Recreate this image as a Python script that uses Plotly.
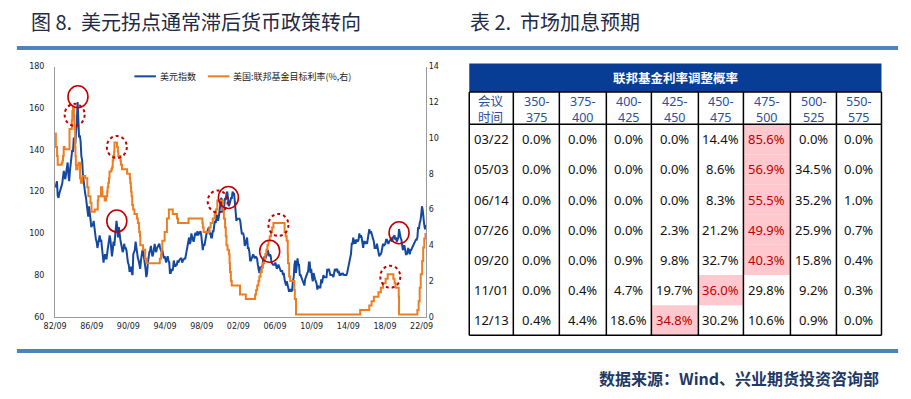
import plotly.graph_objects as go
import pandas as pd

# ---------------- data ----------------
# US dollar index, monthly (first value = 1982-09)
dxy_first_month = "1982-09"
dxy_monthly = [
    122, 124, 125, 118,                                              # 1982 Sep-Dec
    117, 119, 120, 121, 122, 124, 127, 130, 127, 126, 129, 132,      # 1983
    134, 128, 125, 130, 134, 135, 140, 139, 146, 144, 143, 149,      # 1984
    153, 163, 152, 146, 147, 144, 137, 135, 128, 124, 121, 119,      # 1985
    117, 112, 111, 108, 113, 110, 104, 103, 104, 104, 106, 102,      # 1986
    98, 97, 96, 93, 95, 97, 99, 96, 97, 93, 88, 86,                  # 1987
    89, 90, 88, 88, 91, 95, 98, 99, 97, 93, 89, 92,                  # 1988
    96, 94, 99, 100, 106, 103, 98, 103, 99, 97, 95, 92,              # 1989
    91, 92, 95, 93, 93, 92, 88, 86, 85, 82, 82, 84,                  # 1990
    81, 80, 90, 92, 92, 96, 93, 92, 88, 87, 84, 83,                  # 1991
    87, 90, 92, 91, 89, 85, 83, 79, 81, 86, 89, 91,                  # 1992
    92, 94, 91, 89, 90, 94, 95, 92, 91, 93, 94, 94,                  # 1993
    95, 93, 92, 91, 92, 89, 88, 89, 87, 86, 88, 89,                  # 1994
    87, 86, 81, 81, 83, 82, 83, 87, 85, 84, 85, 85,                  # 1995
    87, 86, 87, 88, 88, 88, 86, 87, 88, 88, 88, 90,                  # 1996
    94, 96, 96, 98, 95, 96, 100, 99, 97, 96, 98, 100,                # 1997
    100, 99, 101, 99, 100, 101, 101, 99, 94, 92, 95, 94,             # 1998
    96, 99, 100, 101, 102, 103, 100, 100, 98, 98, 101, 101,          # 1999
    104, 106, 105, 109, 108, 106, 108, 112, 114, 117, 116, 110,      # 2000
    111, 113, 117, 116, 119, 120, 117, 113, 114, 116, 117, 117,      # 2001
    120, 119, 119, 115, 112, 106, 107, 107, 107, 107, 106, 102,      # 2002
    100, 100, 100, 98, 94, 95, 96, 98, 93, 93, 91, 87,               # 2003
    87, 88, 88, 90, 89, 88, 89, 88, 88, 85, 82, 81,                  # 2004
    84, 83, 84, 84, 87, 89, 89, 88, 89, 90, 92, 91,                  # 2005
    89, 90, 89, 86, 85, 85, 85, 85, 86, 85, 83, 84,                  # 2006
    85, 84, 83, 82, 82, 82, 80, 81, 78, 77, 75, 77,                  # 2007
    75, 74, 72, 73, 73, 72, 73, 77, 79, 85, 87, 81,                  # 2008
    86, 88, 85, 85, 80, 80, 79, 78, 77, 76, 75, 78,                  # 2009
    79, 80, 81, 82, 86, 86, 81, 83, 79, 77, 81, 79,                  # 2010
    78, 77, 76, 73, 75, 74, 74, 74, 78, 76, 78, 80,                  # 2011
    79, 79, 79, 79, 83, 82, 83, 81, 80, 80, 80, 80,                  # 2012
    79, 82, 83, 82, 83, 83, 81, 82, 80, 80, 81, 80,                  # 2013
    81, 80, 80, 80, 80, 80, 81, 83, 86, 87, 88, 90,                  # 2014
    95, 95, 98, 95, 97, 95, 97, 96, 96, 97, 100, 98,                 # 2015
    99, 98, 95, 93, 96, 96, 95, 96, 95, 98, 101, 102,                # 2016
    100, 101, 100, 99, 97, 96, 93, 93, 93, 95, 93, 92,               # 2017
    89, 90, 90, 91, 94, 95, 94, 95, 95, 97, 97, 96,                  # 2018
    95, 96, 97, 97, 98, 96, 98, 99, 99, 97, 98, 96,                  # 2019
    97, 98, 102, 99, 98, 97, 93, 92, 94, 94, 92, 90,                 # 2020
    90, 91, 93, 91, 90, 92, 92, 93, 94, 94, 96, 96,                  # 2021
    97, 97, 98, 103, 102, 105, 106, 109, 113, 111, 106, 104,         # 2022
    102, 104,                                                        # 2023 Jan-Feb
]

# Fed funds target rate (%), change dates and new levels
fed_dates = [
    "1982-09-01", "1982-10-01", "1982-11-19", "1982-12-14", "1983-05-25", "1983-06-24",
    "1983-07-14", "1983-08-10", "1983-09-15", "1984-03-29", "1984-06-28", "1984-07-19",
    "1984-08-09", "1984-09-20", "1984-10-11", "1984-11-08", "1984-11-21", "1984-12-06",
    "1984-12-20", "1985-02-14", "1985-03-28", "1985-05-20", "1985-06-24", "1985-08-21",
    "1985-12-18", "1986-03-07", "1986-04-21", "1986-07-11", "1986-08-21", "1987-01-02",
    "1987-04-30", "1987-05-22", "1987-09-04", "1987-10-22", "1987-11-04", "1988-01-28",
    "1988-03-30", "1988-05-09", "1988-05-25", "1988-06-22", "1988-07-19", "1988-08-09",
    "1988-10-20", "1988-11-22", "1988-12-15", "1989-01-05", "1989-02-09", "1989-02-24",
    "1989-06-06", "1989-07-07", "1989-07-27", "1989-10-18", "1989-11-06", "1989-12-20",
    "1990-07-13", "1990-10-29", "1990-11-14", "1990-12-07", "1990-12-19", "1991-01-09",
    "1991-02-01", "1991-03-08", "1991-04-30", "1991-08-06", "1991-09-13", "1991-10-31",
    "1991-11-06", "1991-12-06", "1991-12-20", "1992-04-09", "1992-07-02", "1992-09-04",
    "1994-02-04", "1994-03-22", "1994-04-18", "1994-05-17", "1994-08-16", "1994-11-15",
    "1995-02-01", "1995-07-06", "1995-12-19", "1996-01-31", "1997-03-25", "1998-09-29",
    "1998-10-15", "1998-11-17", "1999-06-30", "1999-08-24", "1999-11-16", "2000-02-02",
    "2000-03-21", "2000-05-16", "2001-01-03", "2001-01-31", "2001-03-20", "2001-04-18",
    "2001-05-15", "2001-06-27", "2001-08-21", "2001-09-17", "2001-10-02", "2001-11-06",
    "2001-12-11", "2002-11-06", "2003-06-25", "2004-06-30", "2004-08-10", "2004-09-21",
    "2004-11-10", "2004-12-14", "2005-02-02", "2005-03-22", "2005-05-03", "2005-06-30",
    "2005-08-09", "2005-09-20", "2005-11-01", "2005-12-13", "2006-01-31", "2006-03-28",
    "2006-05-10", "2006-06-29", "2007-09-18", "2007-10-31", "2007-12-11", "2008-01-22",
    "2008-01-30", "2008-03-18", "2008-04-30", "2008-10-08", "2008-10-29", "2008-12-16",
    "2015-12-16", "2016-12-14", "2017-03-15", "2017-06-14", "2017-12-13", "2018-03-21",
    "2018-06-13", "2018-09-26", "2018-12-19", "2019-07-31", "2019-09-18", "2019-10-30",
    "2020-03-03", "2020-03-15", "2022-03-16", "2022-05-04", "2022-06-15", "2022-07-27",
    "2022-09-21", "2022-11-02", "2022-12-14", "2023-02-01", "2023-02-28",
]
fed_rates = [
    10.25, 9.5, 9.0, 8.5, 8.625, 8.75,
    9.0, 9.5, 9.375, 10.5, 11.0, 11.5,
    11.75, 11.25, 10.5, 9.5, 9.0, 8.5,
    8.25, 8.5, 8.625, 7.75, 7.5, 7.875,
    7.75, 7.25, 6.75, 6.375, 5.875, 6.0,
    6.5, 6.75, 7.25, 7.0, 6.75, 6.5,
    6.75, 7.0, 7.25, 7.5, 7.75, 8.125,
    8.25, 8.375, 8.75, 9.0, 9.25, 9.75,
    9.5, 9.25, 9.0, 8.75, 8.5, 8.25,
    8.0, 7.75, 7.5, 7.25, 7.0, 6.75,
    6.25, 6.0, 5.75, 5.5, 5.25, 5.0,
    4.75, 4.5, 4.0, 3.75, 3.25, 3.0,
    3.25, 3.5, 3.75, 4.25, 4.75, 5.5,
    6.0, 5.75, 5.5, 5.25, 5.5, 5.25,
    5.0, 4.75, 5.0, 5.25, 5.5, 5.75,
    6.0, 6.5, 6.0, 5.5, 5.0, 4.5,
    4.0, 3.75, 3.5, 3.0, 2.5, 2.0,
    1.75, 1.25, 1.0, 1.25, 1.5, 1.75,
    2.0, 2.25, 2.5, 2.75, 3.0, 3.25,
    3.5, 3.75, 4.0, 4.25, 4.5, 4.75,
    5.0, 5.25, 4.75, 4.5, 4.25, 3.5,
    3.0, 2.25, 2.0, 1.5, 1.0, 0.125,
    0.375, 0.625, 0.875, 1.125, 1.375, 1.625,
    1.875, 2.125, 2.375, 2.125, 1.875, 1.625,
    1.125, 0.125, 0.375, 0.875, 1.625, 2.375,
    3.125, 3.875, 4.375, 4.625, 4.625,
]

x_tick_dates = ["1982-09-01", "1986-09-01", "1990-09-01", "1994-09-01", "1998-09-01", "2002-09-01",
                "2006-09-01", "2010-09-01", "2014-09-01", "2018-09-01", "2022-09-01"]
x_tick_labels = ["82/09", "86/09", "90/09", "94/09", "98/09", "02/09",
                 "06/09", "10/09", "14/09", "18/09", "22/09"]

series_names = ["美元指数", "美国:联邦基金目标利率(%,右)"]

# highlighted turning points: (date, value on left axis)
solid_circles = [("1985-03-01", 165.5), ("1989-05-28", 105.9), ("2001-08-01", 117.2),
                 ("2006-02-01", 91.4), ("2020-03-15", 100.3)]
# policy turning points: (date, value on right axis)
dotted_circles = [("1984-10-20", 11.3), ("1989-05-28", 9.5), ("2000-06-01", 6.45),
                  ("2007-01-15", 5.14), ("2019-04-01", 2.24)]

# table
table_title = "联邦基金利率调整概率"
meeting_header = "会议<br>时间"
rate_ranges = ["350-375", "375-400", "400-425", "425-450", "450-475", "475-500", "500-525", "550-575"]
meetings = ["03/22", "05/03", "06/14", "07/26", "09/20", "11/01", "12/13"]
probabilities = [
    [0.0, 0.0, 0.0, 0.0, 14.4, 85.6, 0.0, 0.0],
    [0.0, 0.0, 0.0, 0.0, 8.6, 56.9, 34.5, 0.0],
    [0.0, 0.0, 0.0, 0.0, 8.3, 55.5, 35.2, 1.0],
    [0.0, 0.0, 0.0, 2.3, 21.2, 49.9, 25.9, 0.7],
    [0.0, 0.0, 0.9, 9.8, 32.7, 40.3, 15.8, 0.4],
    [0.0, 0.4, 4.7, 19.7, 36.0, 29.8, 9.2, 0.3],
    [0.4, 4.4, 18.6, 34.8, 30.2, 10.6, 0.9, 0.0],
]

# ---------------- layout helpers ----------------
W, H = 911, 399
def px(x):
    return x / W
def py(y):
    return 1 - y / H

CJK = "Noto Sans CJK SC"
BLUE = "#1548a0"
ORANGE = "#ee7d22"
RED = "#c00000"

fig = go.Figure()

dxy_dates = pd.date_range(dxy_first_month + "-01", periods=len(dxy_monthly), freq="MS") + pd.Timedelta(days=14)

fig.add_trace(go.Scatter(
    x=pd.to_datetime(fed_dates), y=fed_rates, yaxis="y2", mode="lines", line_shape="hv",
    line=dict(color=ORANGE, width=2), name=series_names[1]))
fig.add_trace(go.Scatter(
    x=dxy_dates, y=dxy_monthly, mode="lines",
    line=dict(color=BLUE, width=2), name=series_names[0]))

axis_font = dict(family="DejaVu Sans", size=8, color="#222")
fig.update_layout(
    width=W, height=H, autosize=False,
    margin=dict(l=0, r=0, t=0, b=0),
    paper_bgcolor="white", plot_bgcolor="white",
    showlegend=False,
    xaxis=dict(domain=[px(44), px(423)], type="date", range=["1982-09-01", "2023-03-01"],
               tickvals=pd.to_datetime(x_tick_dates), ticktext=x_tick_labels,
               showline=True, linecolor="#9a9a9a", linewidth=1, showgrid=False, zeroline=False,
               ticks="", tickfont=axis_font, anchor="y", ticklabelstandoff=2),
    yaxis=dict(domain=[py(320), py(64)], range=[60, 180], dtick=20, showline=True,
               linecolor="#9a9a9a", linewidth=1, showgrid=False, zeroline=False, ticks="",
               tickfont=axis_font, ticklabelstandoff=8),
    yaxis2=dict(overlaying="y", side="right", range=[0, 14], dtick=2, showline=True,
                linecolor="#9a9a9a", linewidth=1, showgrid=False, zeroline=False, ticks="",
                tickfont=axis_font, anchor="x", ticklabelstandoff=0),
)

shapes = []
annotations = []

# legend (drawn manually for exact spacing)
legend_items = [(series_names[0], BLUE, 125), (series_names[1], ORANGE, 200)]
for name, color, x0 in legend_items:
    shapes.append(dict(type="line", xref="paper", yref="paper", x0=px(x0), x1=px(x0 + 22),
                       y0=py(74), y1=py(74), line=dict(color=color, width=2)))
    annotations.append(dict(xref="paper", yref="paper", x=px(x0 + 24), y=py(74), xanchor="left",
                            yanchor="middle", text=name, showarrow=False,
                            font=dict(family=CJK, size=9, color="#222")))

# circles
for d, v in solid_circles:
    shapes.append(dict(type="circle", xref="x", yref="y", xsizemode="pixel", ysizemode="pixel",
                       xanchor=d, yanchor=v, x0=-10, x1=10, y0=-11, y1=11,
                       line=dict(color=RED, width=1.6)))
for d, v in dotted_circles:
    shapes.append(dict(type="circle", xref="x", yref="y2", xsizemode="pixel", ysizemode="pixel",
                       xanchor=d, yanchor=v, x0=-10, x1=10, y0=-11, y1=11,
                       line=dict(color=RED, width=2, dash="dot")))

# header bars
BAR = "#4f81bd"
shapes.append(dict(type="rect", xref="paper", yref="paper", x0=px(5), x1=px(905), y0=py(47), y1=py(43),
                   fillcolor=BAR, line=dict(width=0)))
shapes.append(dict(type="rect", xref="paper", yref="paper", x0=px(5), x1=px(905), y0=py(357), y1=py(353),
                   fillcolor=BAR, line=dict(width=0)))

TITLE_C = "#1f2a44"
annotations.append(dict(xref="paper", yref="paper", x=px(17), y=py(18), xanchor="left", yanchor="middle",
                        text="图 8.\u00a0\u00a0美元拐点通常滞后货币政策转向", showarrow=False,
                        font=dict(family=CJK, size=20, color=TITLE_C)))
annotations.append(dict(xref="paper", yref="paper", x=px(466), y=py(18), xanchor="left", yanchor="middle",
                        text="表 2.\u00a0\u00a0市场加息预期", showarrow=False,
                        font=dict(family=CJK, size=20, color=TITLE_C)))
annotations.append(dict(xref="paper", yref="paper", x=px(888), y=py(383), xanchor="right", yanchor="middle",
                        text="<b>数据来源：Wind、兴业期货投资咨询部</b>", showarrow=False,
                        font=dict(family=CJK, size=16, color="#1f3864")))

# ---------------- table ----------------
col_x = [467, 512, 559, 607, 653, 701, 747, 795, 842, 888]
t_top, t_head_bot, t_sub_bot, t_bot = 61, 90, 123, 339
row_h = (t_bot - t_sub_bot) / len(meetings)
NAVY = "#073d95"
PINK = "#ffc7ce"
LINE = dict(color="black", width=1.5)

shapes.append(dict(type="rect", xref="paper", yref="paper", x0=px(col_x[0]), x1=px(col_x[-1]),
                   y0=py(t_head_bot), y1=py(t_top), fillcolor=NAVY, line=dict(width=0)))
annotations.append(dict(xref="paper", yref="paper", x=px((col_x[0] + col_x[-1]) / 2), y=py((t_top + t_head_bot) / 2),
                        text="<b>" + table_title + "</b>", showarrow=False, xanchor="center", yanchor="middle",
                        font=dict(family=CJK, size=12.5, color="white")))

# highlighted cells (row maximum)
for r, row in enumerate(probabilities):
    c = max(range(len(row)), key=lambda i: row[i])
    shapes.append(dict(type="rect", xref="paper", yref="paper", x0=px(col_x[c + 1]), x1=px(col_x[c + 2]),
                       y0=py(t_sub_bot + (r + 1) * row_h), y1=py(t_sub_bot + r * row_h),
                       fillcolor=PINK, line=dict(width=0), layer="below"))

for yy in (t_head_bot, t_sub_bot, t_bot):
    shapes.append(dict(type="line", xref="paper", yref="paper", x0=px(col_x[0]), x1=px(col_x[-1]),
                       y0=py(yy), y1=py(yy), line=LINE))
for xx in col_x:
    shapes.append(dict(type="line", xref="paper", yref="paper", x0=px(xx), x1=px(xx),
                       y0=py(t_head_bot), y1=py(t_bot), line=LINE))

SUB_C = "#2b4f9a"
CELL_FONT = "Noto Sans, " + CJK
sub_y = py((t_head_bot + t_sub_bot) / 2 + 1)
header_cells = [meeting_header] + [rg.split("-")[0] + "-<br>" + rg.split("-")[1] for rg in rate_ranges]
for i, txt in enumerate(header_cells):
    annotations.append(dict(xref="paper", yref="paper", x=px((col_x[i] + col_x[i + 1]) / 2), y=sub_y,
                            text=txt, showarrow=False, xanchor="center", yanchor="middle",
                            font=dict(family=CELL_FONT, size=12.5, color=SUB_C)))

for r, (m, row) in enumerate(zip(meetings, probabilities)):
    yc = py(t_sub_bot + (r + 0.5) * row_h)
    cmax = max(range(len(row)), key=lambda i: row[i])
    annotations.append(dict(xref="paper", yref="paper", x=px((col_x[0] + col_x[1]) / 2), y=yc,
                            text=m, showarrow=False, xanchor="center", yanchor="middle",
                            font=dict(family=CELL_FONT, size=13, color="#111")))
    for c, v in enumerate(row):
        annotations.append(dict(xref="paper", yref="paper", x=px((col_x[c + 1] + col_x[c + 2]) / 2), y=yc,
                                text=f"{v:.1f}%", showarrow=False, xanchor="center", yanchor="middle",
                                font=dict(family=CELL_FONT, size=13, color=RED if c == cmax else "#111")))

fig.update_layout(shapes=shapes, annotations=annotations)
fig.write_html("out.html", config={"displayModeBar": False},
               post_script="document.body.style.margin='0';document.body.style.overflow='hidden';")
